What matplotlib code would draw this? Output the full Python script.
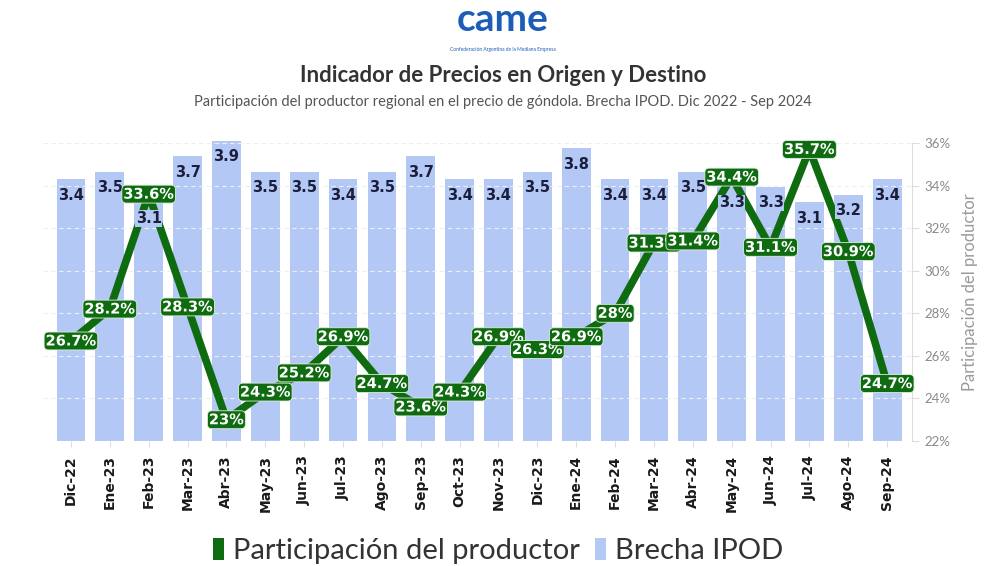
import numpy as np
import matplotlib.pyplot as plt
import matplotlib.patheffects as pe
from matplotlib.patches import Patch

# Datos
meses = ["Dic-22", "Ene-23", "Feb-23", "Mar-23", "Abr-23", "May-23", "Jun-23", "Jul-23",
         "Ago-23", "Sep-23", "Oct-23", "Nov-23", "Dic-23", "Ene-24", "Feb-24", "Mar-24",
         "Abr-24", "May-24", "Jun-24", "Jul-24", "Ago-24", "Sep-24"]
brecha = [3.4, 3.5, 3.1, 3.7, 3.9, 3.5, 3.5, 3.4, 3.5, 3.7, 3.4, 3.4, 3.5, 3.8,
          3.4, 3.4, 3.5, 3.3, 3.3, 3.1, 3.2, 3.4]
participacion = [26.7, 28.2, 33.6, 28.3, 23, 24.3, 25.2, 26.9, 24.7, 23.6, 24.3, 26.9,
                 26.3, 26.9, 28, 31.3, 31.4, 34.4, 31.1, 35.7, 30.9, 24.7]
pct_ticks = [22, 24, 26, 28, 30, 32, 34, 36]

verde = "#0f6b10"
azul = "#b4c8f6"

plt.rcParams['font.family'] = ['Lato', 'DejaVu Sans']

fig = plt.figure(figsize=(10.06, 5.66), dpi=100)
ax = fig.add_axes([0.0427, 0.2208, 0.8639, 0.5265])
x = np.arange(len(meses))

# barras (eje izquierdo oculto)
ax.bar(x, brecha, width=0.74, color=azul, zorder=1, clip_on=False)
ax.set_ylim(0, 3.87)
ax.set_xlim(-0.72, 21.64)
ax.set_yticks([])
for s in ["left", "top", "right", "bottom"]:
    ax.spines[s].set_visible(False)

ax.set_xticks(x)
ax.set_xticklabels(meses, rotation=90, fontsize=10, fontweight="bold",
                   family="DejaVu Sans", color="#1a1a1a")
ax.tick_params(axis="x", length=4, color="#dddddd", pad=6)

# linea (eje derecho)
ax2 = ax.twinx()
ax2.set_ylim(22, 36)
ax2.set_yticks(pct_ticks)
ax2.set_yticklabels(["%d%%" % t for t in pct_ticks], fontsize=9.5, color="#8a8a8a")
ax2.tick_params(axis="y", length=5, color="#dddddd", pad=4)
for s in ["left", "top", "bottom"]:
    ax2.spines[s].set_visible(False)
ax2.spines["right"].set_color("#dddddd")
ax2.set_ylabel("Participación del productor", fontsize=12, color="#9a9a9a", labelpad=8)
for t in pct_ticks:
    ax2.axhline(t, color="#eeeeee", lw=0.8, ls=(0, (4, 3)), zorder=0)

ax2.plot(x, participacion, color=verde, lw=5.5, zorder=4)

# etiquetas de barras (encima de la linea, con fondo del color de la barra)
for xi, v in zip(x, brecha):
    ax2.annotate("%.1f" % v, (xi, v), xycoords=ax.transData, xytext=(0, -11.5),
                 textcoords="offset points", ha="center", va="center", fontsize=10.5,
                 fontweight="bold", color="#1b1f3b", family="DejaVu Sans", zorder=5,
                 annotation_clip=False,
                 bbox=dict(boxstyle="square,pad=0.05", facecolor=azul, edgecolor="none"))

for xi, v in zip(x, participacion):
    ax2.text(xi, v, "%g%%" % v, ha="center", va="center", fontsize=10.5,
             fontweight="bold", color="white", family="DejaVu Sans", zorder=6,
             path_effects=[pe.withStroke(linewidth=1.2, foreground=verde)],
             bbox=dict(boxstyle="round,pad=0.1,rounding_size=0.3",
                       facecolor=verde, edgecolor="#dfeedd", lw=0.6))

# leyenda
handles = [Patch(facecolor=verde, edgecolor="none"),
           Patch(facecolor=azul, edgecolor="none")]
fig.legend(handles, ["Participación del productor", "Brecha IPOD"], loc="center",
           bbox_to_anchor=(0.495, 0.027), ncol=2, frameon=False, fontsize=21,
           handlelength=0.4, handleheight=0.8, handletextpad=0.3,
           columnspacing=0.5, labelcolor="#333333")

# encabezado
fig.text(0.5, 0.965, "came", ha="center", va="center", fontsize=28,
         fontweight="bold", color="#1c5db8")
fig.text(0.5, 0.913, "Confederación Argentina de la Mediana Empresa", ha="center",
         va="center", fontsize=3.5, color="#1c5db8")
fig.text(0.5, 0.867, "Indicador de Precios en Origen y Destino", ha="center",
         va="center", fontsize=16, fontweight="bold", color="#333333")
fig.text(0.5, 0.820, "Participación del productor regional en el precio de góndola. "
         "Brecha IPOD. Dic 2022 - Sep 2024", ha="center", va="center",
         fontsize=10.5, color="#555555")

fig.savefig("out.png", dpi=100, facecolor="white")
